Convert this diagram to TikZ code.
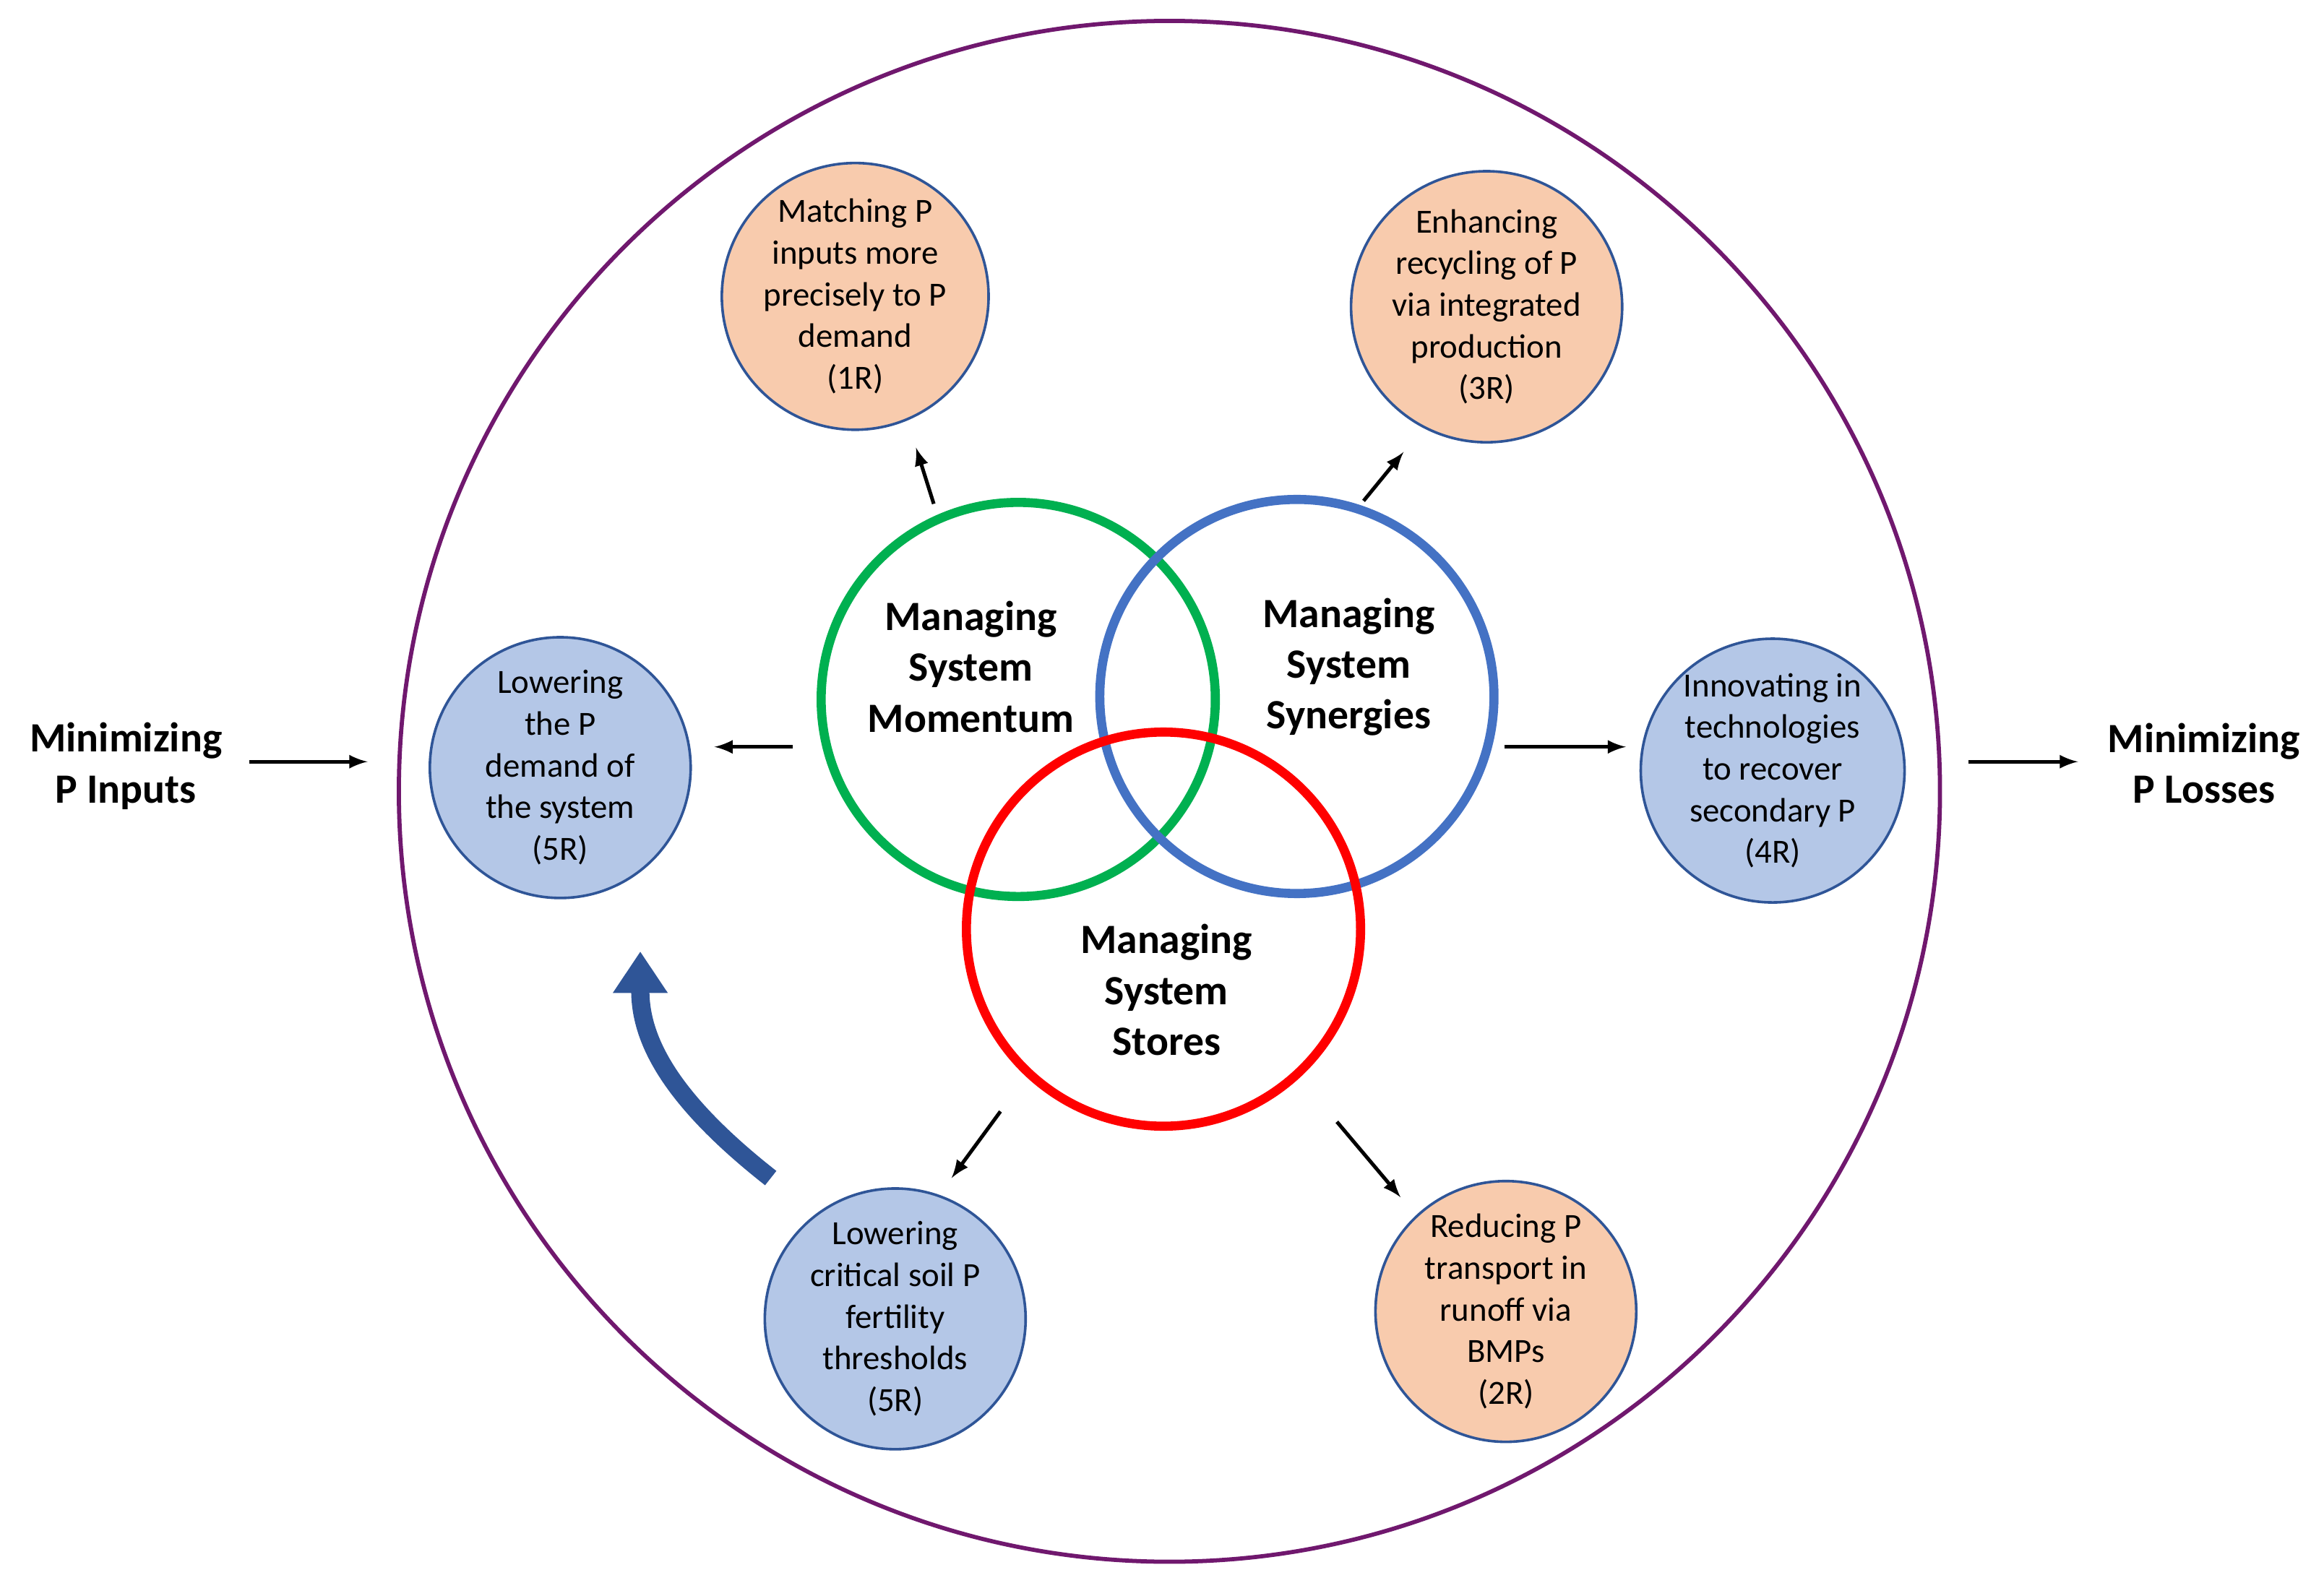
\documentclass[tikz,border=0pt]{standalone}
\usepackage{fontspec}
\setmainfont{Carlito}
\usetikzlibrary{arrows.meta}
\definecolor{orangeR}{HTML}{F8CBAD}
\definecolor{bleuR}{HTML}{B4C7E7}
\definecolor{bordR}{HTML}{2F5597}
\definecolor{vertM}{HTML}{00B050}
\definecolor{bleuM}{HTML}{4472C4}
\definecolor{violetC}{HTML}{70186E}
\tikzset{
    petit/.style={circle, draw=bordR, line width=1pt, minimum size=3.52cm, align=center, font=\fontsize{13}{16}\selectfont, inner sep=0pt},
    gros/.style={circle, line width=3.5pt, minimum size=5.32cm},
    titre/.style={align=center, font=\bfseries\fontsize{16}{19.5}\selectfont},
    fl/.style={-latex, line width=1.4pt}
}
\begin{document}
\begin{tikzpicture}[x=0.02cm, y=-0.02cm]
    \useasboundingbox (0,0) rectangle (1568,1068);
    % Grand cercle
    \draw[violetC, line width=1.6pt] (789,534) circle[radius=10.4cm];

    % Les trois cercles centraux
    \node[gros, draw=vertM] (mom) at (687,472) {};
    \node[gros, draw=bleuM] (syn) at (875,470) {};
    \node[gros, draw=red] (sto) at (785,627) {};
    \node[titre] (tmom) at (655,450) {Managing\\System\\Momentum};
    \node[titre] (tsyn) at (910,450) {Managing\\System\\Synergies};
    \node[titre] (tsto) at (787,668) {Managing\\System\\Stores};

    % Petits cercles
    \node[petit, fill=orangeR] (r1) at (577,200) {Matching P\\inputs more\\precisely to P\\demand\\(1R)};
    \node[petit, fill=orangeR] (r3) at (1003,207) {Enhancing\\recycling of P\\via integrated\\production\\(3R)};
    \node[petit, fill=bleuR] (r5a) at (378,518) {Lowering\\the P\\demand of\\the system\\(5R)};
    \node[petit, fill=bleuR] (r4) at (1196,520) {Innovating in\\technologies\\to recover\\secondary P\\(4R)};
    \node[petit, fill=bleuR] (r5b) at (604,890) {Lowering\\critical soil P\\fertility\\thresholds\\(5R)};
    \node[petit, fill=orangeR] (r2) at (1016,885) {Reducing P\\transport in\\runoff via\\BMPs\\(2R)};

    % Textes lateraux
    \node[titre] (entree) at (85,517) {Minimizing\\P Inputs};
    \node[titre] (sortie) at (1487,515) {Minimizing\\P Losses};

    % Points des fleches
    \coordinate (a1) at (630,340); \coordinate (b1) at (618,302);
    \coordinate (a3) at (920,338); \coordinate (b3) at (947,305);
    \coordinate (a5) at (535,504); \coordinate (b5) at (482,504);
    \coordinate (a4) at (1015,504); \coordinate (b4) at (1097,504);
    \coordinate (a6) at (675,750); \coordinate (b6) at (642,795);
    \coordinate (a2) at (902,757); \coordinate (b2) at (945,808);
    \coordinate (ae) at (168,514); \coordinate (be) at (248,514);
    \coordinate (as) at (1328,514); \coordinate (bs) at (1402,514);
    \coordinate (ac) at (520,795); \coordinate (bc) at (432,642);

    % Fleches
    \foreach \a/\b in {a1/b1, a3/b3, a5/b5, a4/b4, a6/b6, a2/b2, ae/be, as/bs}
        \draw[fl] (\a) -- (\b);
    \draw[bordR, line width=7pt, -{Triangle[length=16pt, width=20pt]}] (ac) .. controls (450,740) and (432,700) .. (bc);
\end{tikzpicture}
\end{document}
